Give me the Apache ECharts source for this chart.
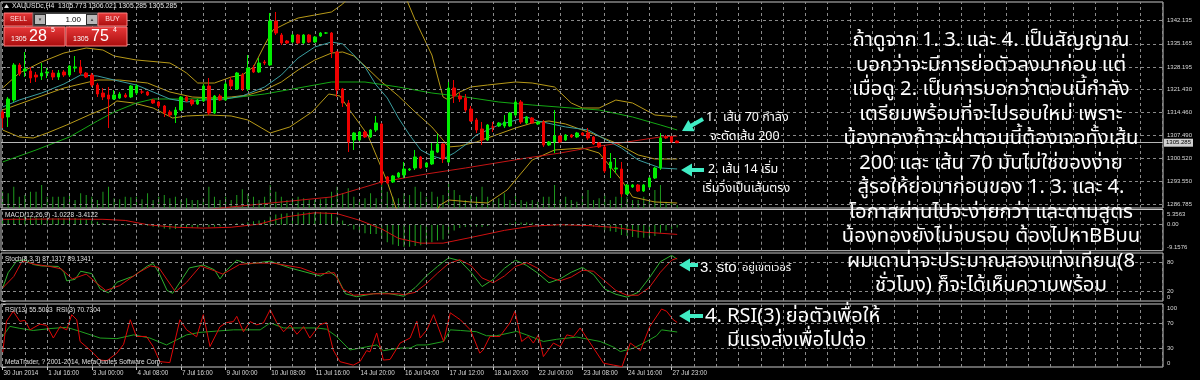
<!DOCTYPE html>
<html><head><meta charset="utf-8">
<script src="https://cdn.jsdelivr.net/npm/echarts@6/dist/echarts.min.js"></script>
<style>html,body{margin:0;padding:0;background:#000;overflow:hidden}#c{width:1200px;height:380px}</style>
</head><body><div id="c"></div>
<script>
// ---------------- DATA ----------------
const timeLabels = ['30 Jun 2014','1 Jul 16:00','3 Jul 00:00','4 Jul 08:00','7 Jul 16:00','9 Jul 00:00','10 Jul 08:00','11 Jul 16:00','14 Jul 20:00','16 Jul 04:00','17 Jul 12:00','18 Jul 20:00','22 Jul 00:00','23 Jul 08:00','24 Jul 16:00','27 Jul 23:00'];
const labelEvery = 8;
const priceTicks = [1342.135,1335.165,1328.195,1321.430,1314.460,1307.490,1300.520,1293.550,1286.785];
const bidPrice = 1305.285;
const macdTicks = [5.3563, 0, -9.1576];
const stochLevels = [0,20,80,100];
const rsiLevels = [0,30,70,100];

const openP = [1314.57,1313.06,1318.19,1328.76,1326.95,1326.95,1325.74,1325.44,1326.34,1326.34,
1325.14,1326.65,1325.74,1327.85,1328.16,1326.34,1325.74,1322.72,1320.30,1319.70,
1318.49,1318.79,1319.70,1319.10,1320.30,1320.61,1320.61,1318.19,1317.59,1316.38,
1314.57,1313.66,1315.17,1319.10,1318.19,1316.98,1317.89,1322.42,1314.26,1319.40,
1318.19,1324.23,1321.51,1325.74,1321.51,1327.85,1326.65,1329.67,1328.76,1342.05,
1337.82,1336.01,1335.71,1337.82,1335.40,1337.82,1335.71,1337.52,1338.42,1338.42,
1332.69,1321.51,1317.28,1306.11,1306.11,1308.53,1307.02,1309.13,1310.94,1294.94,
1293.43,1294.94,1295.54,1297.05,1297.65,1300.98,1297.96,1298.86,1302.49,1304.90,
1299.47,1321.81,1319.40,1318.79,1315.47,1312.15,1309.43,1306.11,1310.04,1310.34,
1310.34,1310.34,1313.66,1317.59,1311.24,1312.75,1310.94,1311.55,1304.60,1305.51,
1307.32,1306.11,1307.62,1307.02,1308.22,1308.22,1307.02,1305.20,1304.00,1297.65,
1297.35,1297.35,1289.80,1291.92,1292.52,1290.71,1291.92,1294.63,1297.65,1307.02,
1307.02,1305.77];
const closeP = [1312.75,1318.49,1328.76,1326.04,1327.55,1324.83,1325.14,1326.34,1326.65,1325.14,
1326.34,1325.74,1328.46,1328.16,1326.34,1325.14,1322.72,1320.00,1319.10,1318.49,
1319.70,1320.00,1319.10,1322.42,1322.42,1320.61,1319.70,1317.28,1316.38,1314.26,
1313.66,1315.17,1319.10,1317.89,1316.98,1318.19,1322.42,1314.26,1319.40,1318.19,
1323.02,1322.42,1326.34,1321.51,1327.85,1326.65,1329.36,1329.36,1342.05,1338.42,
1335.40,1335.40,1337.82,1335.40,1337.82,1335.71,1337.22,1338.42,1338.42,1332.69,
1321.21,1317.28,1305.51,1308.22,1308.53,1307.02,1309.13,1311.24,1293.12,1293.12,
1295.24,1296.14,1297.35,1297.35,1300.98,1297.65,1299.16,1302.79,1304.90,1300.37,
1321.81,1319.40,1318.49,1315.17,1311.85,1309.13,1306.11,1310.64,1310.04,1311.24,
1311.55,1314.26,1317.59,1311.55,1313.06,1311.24,1311.55,1304.60,1305.51,1307.32,
1305.51,1307.62,1307.02,1308.22,1307.62,1306.71,1304.90,1304.00,1296.75,1299.47,
1297.65,1289.80,1292.52,1292.52,1290.71,1292.52,1294.63,1297.65,1306.71,1306.71,
1305.51,1305.285];
const lowP = [1309.73,1310.04,1317.59,1325.44,1325.14,1323.32,1323.63,1324.23,1324.83,1324.23,
1324.23,1325.14,1325.14,1326.65,1325.74,1324.83,1322.12,1319.10,1318.19,1309.73,
1318.19,1318.49,1318.79,1318.79,1319.70,1320.00,1319.40,1316.98,1315.77,1313.06,
1313.06,1311.24,1314.87,1317.59,1316.38,1316.68,1317.59,1313.66,1313.96,1317.89,
1317.89,1321.21,1321.21,1320.91,1320.91,1326.34,1326.34,1328.76,1328.46,1337.82,
1334.80,1335.10,1335.40,1335.10,1335.10,1335.40,1335.40,1337.22,1338.12,1330.87,
1319.10,1316.08,1302.49,1303.09,1305.81,1306.71,1306.71,1308.53,1292.52,1292.82,
1293.12,1294.63,1294.63,1296.75,1297.05,1297.35,1297.65,1298.56,1302.18,1299.16,
1299.16,1317.28,1317.59,1314.57,1311.55,1308.22,1304.60,1305.81,1308.53,1310.04,
1309.73,1310.04,1313.36,1310.94,1310.94,1310.94,1310.64,1304.00,1304.30,1302.18,
1305.20,1305.81,1306.71,1306.71,1307.32,1306.11,1304.60,1303.69,1296.14,1294.63,
1296.14,1288.90,1289.50,1291.61,1290.41,1290.41,1291.61,1294.33,1297.05,1306.41,
1305.20,1305.285];
const highP = [1315.17,1319.10,1329.36,1329.36,1332.69,1328.16,1326.65,1329.36,1327.85,1327.25,
1327.25,1327.25,1328.76,1331.48,1330.27,1326.65,1326.34,1323.32,1321.81,1322.12,
1321.21,1320.61,1320.30,1322.72,1323.02,1321.21,1320.91,1318.49,1317.89,1316.68,
1315.17,1316.08,1319.40,1319.40,1318.49,1318.49,1323.02,1324.83,1319.70,1320.00,
1323.63,1325.14,1326.65,1326.34,1331.78,1328.76,1330.87,1330.27,1344.46,1344.77,
1338.42,1336.31,1338.12,1338.12,1338.12,1338.12,1337.52,1338.73,1338.73,1338.73,
1332.99,1321.81,1318.19,1308.53,1308.83,1308.83,1309.43,1313.36,1311.24,1295.24,
1295.54,1296.45,1299.47,1297.65,1303.09,1301.28,1299.47,1305.20,1307.92,1305.20,
1323.63,1324.23,1320.30,1320.00,1316.38,1312.75,1311.55,1310.94,1311.55,1311.55,
1313.66,1314.57,1318.19,1318.19,1313.36,1313.06,1311.85,1312.15,1305.81,1315.17,
1307.62,1307.92,1307.92,1308.53,1308.53,1309.73,1307.32,1305.51,1304.30,1302.18,
1300.67,1299.47,1292.82,1292.82,1292.82,1292.82,1294.94,1297.96,1308.22,1307.62,
1307.32,1306.021];
const volume = [1630,1470,2130,1130,1300,1630,1630,2300,1130,1130,1130,1130,1470,800,1470,1300,1130,800,1630,2130,
970,870,1130,1070,1130,870,1470,800,1130,1300,970,1130,800,970,800,800,970,2130,1130,800,1130,800,
1300,1870,1400,1130,800,1130,2300,1630,1130,800,970,1130,970,800,800,870,970,1630,2130,1470,
1970,1130,800,970,1470,970,2630,1630,1130,970,1470,1300,2130,1630,1130,1630,1130,1300,2630,1800,1300,
800,1300,1130,2130,1130,800,970,1470,800,1300,800,630,800,630,1130,1130,2300,800,1130,800,
630,1470,1800,800,970,1300,800,1130,1970,1130,800,800,1130,800,1800,2300,630,630,300];

const bbUpper = [[0,1321.81],[3,1326.34],[7,1329.67],[11,1332.38],[15,1333.89],[18,1333.29],[20,1331.48],[24,1330.27],[28,1329.67],[30,1329.36],[31,1328.46],[33,1326.34],[35,1323.32],[38,1323.32],[41,1325.14],[43,1325.74],[45,1328.16],[47,1334.80],[48.5,1339.33],[51,1341.44],[53,1342.95],[56,1343.86],[59,1344.77],[61,1347.18],[62,1348.99],[64,1352.92],[67,1355.94],[70,1352.92],[72.5,1348.39],[74,1342.35],[77,1331.78],[79,1319.10],[80,1318.19],[82,1320.61],[84,1322.12],[87,1322.72],[92,1323.63],[95,1323.32],[99,1322.12],[102,1317.28],[104,1315.77],[107,1315.77],[110,1318.19],[113,1317.28],[117,1313.66],[121,1313.06]];
const bbMid = [[0,1315.17],[5,1318.19],[11,1321.81],[17,1324.23],[21,1324.23],[26,1323.32],[30,1320.61],[34,1319.10],[38,1318.79],[41,1319.10],[44,1319.70],[47,1321.21],[50,1323.63],[53,1327.25],[56,1330.27],[59,1332.38],[61,1332.69],[63,1331.48],[65,1328.46],[68,1323.63],[71,1319.40],[74,1314.57],[77,1310.04],[79,1306.11],[80,1304.00],[82,1304.30],[85,1305.51],[89,1307.92],[92,1309.73],[95,1311.24],[98,1311.85],[101,1310.94],[103,1309.73],[106,1307.92],[110,1305.20],[114,1301.58],[117,1300.37],[121,1300.37]];
const bbLower = [[0,1309.13],[3,1307.02],[5.5,1306.71],[8,1308.22],[11.5,1310.64],[15.5,1313.66],[19,1316.08],[20.5,1317.89],[23.5,1317.28],[27,1315.77],[30.5,1312.75],[33,1313.36],[37,1313.66],[41,1313.36],[44,1312.15],[48,1308.22],[51.5,1310.04],[55.5,1314.57],[58.5,1320.00],[60.5,1319.40],[62.5,1314.57],[65.5,1307.62],[69,1293.43],[70.5,1285.88],[72,1281.35],[74,1278.93],[76,1280.44],[78.5,1286.48],[80,1287.99],[84,1287.39],[87,1287.08],[90.5,1291.01],[95,1300.07],[99,1303.09],[104,1303.69],[107,1302.18],[111,1294.03],[113,1288.90],[117,1287.39],[121,1287.08]];
const ma14 = [[0,1316.08],[3,1318.19],[7,1320.30],[11,1323.02],[14,1325.74],[17,1325.44],[20,1324.23],[24,1322.72],[27,1320.61],[30,1318.49],[33,1317.59],[36,1318.19],[40,1318.49],[43,1319.40],[47,1322.12],[50,1325.74],[53,1330.87],[56,1334.20],[59,1335.71],[61,1335.10],[63,1331.78],[65,1328.16],[67,1322.72],[69,1318.79],[71,1312.75],[73,1307.62],[75,1303.09],[77,1301.28],[79,1300.37],[81,1302.18],[83,1304.60],[85,1307.62],[89,1310.64],[94,1313.06],[96,1311.85],[101,1310.04],[105,1309.13],[107,1307.32],[111,1303.69],[114,1300.07],[118,1297.65],[121,1297.35]];
const ma70 = [[0,1299.47],[6,1303.09],[12,1307.02],[17,1311.85],[20,1314.57],[24,1317.28],[27,1318.49],[33,1318.49],[41,1318.79],[47,1320.00],[53,1321.81],[59,1323.63],[65,1323.63],[71,1322.12],[77,1320.30],[83,1319.10],[89,1317.59],[95,1316.68],[102,1315.77],[107,1315.17],[113,1313.06],[118,1310.64],[121,1309.13]];
const ma200 = [[0,1278.33],[20,1281.95],[41,1285.88],[59,1288.90],[68,1293.43],[76,1295.84],[83,1297.65],[94,1300.67],[100,1302.18],[106,1304.00],[112,1305.51],[118,1307.02],[121,1307.32]];

const macdHist = [1.9,2.0,2.3,2.6,2.7,2.6,2.5,2.4,2.4,2.3,
2.3,2.2,2.3,2.4,2.2,1.9,1.5,1.0,0.6,0.2,
-0.1,-0.2,-0.3,-0.2,-0.1,-0.2,-0.4,-0.7,-1.0,-1.3,
-1.6,-1.5,-1.2,-1.1,-1.1,-1.0,-0.6,-0.9,-0.7,-0.6,
-0.2,0.1,0.5,0.4,0.9,1.2,1.5,1.6,2.9,3.6,
3.9,4.0,4.2,4.3,4.4,4.4,4.4,4.5,4.5,4.0,
2.8,1.5,-0.5,-1.7,-2.5,-3.0,-3.3,-3.3,-5.0,-6.2,
-7.0,-7.5,-7.8,-7.8,-7.5,-7.2,-6.8,-6.2,-5.6,-5.2,
-3.2,-2.0,-1.2,-0.8,-0.6,-0.6,-0.8,-0.5,-0.3,0.0,
0.2,0.5,1.0,0.8,0.8,0.7,0.2,-0.3,-0.5,-0.5,
-0.6,-0.5,-0.4,-0.3,-0.3,-0.4,-0.6,-0.9,-1.8,-2.3,
-2.6,-3.6,-4.0,-4.3,-4.6,-4.6,-4.4,-4.0,-2.8,-2.0,-1.5,-1.0228];
const macdSignal = [[0,1.9],[10,2.0],[18,1.9],[22,1.5],[26,0.0],[31,-0.9],[36,-1.2],[41,-0.9],[46,0.2],[51,2.8],[56,4.2],[60,3.9],[64,1.6],[68,-1.5],[71,-4.8],[75,-6.5],[79,-6.5],[84,-4.5],[90,-2.0],[95,-0.5],[100,0.0],[105,-0.3],[110,-1.0],[115,-2.6],[121,-3.4122]];

const stochMain = [[0,27],[1,59],[2.5,83],[4,86],[5.5,76],[7,73],[10,72],[11,60],[11.5,42],[13,45],[14,62],[16,57],[17.5,25],[19,17],[20.5,39],[23.5,52],[26,73],[27,78],[28,60],[29.5,22],[30.5,16],[33.5,69],[36,75],[38,65],[39,46],[40,62],[42,85],[44,77],[46,80],[48,83],[51.5,69],[57,52],[58.5,62],[60,50],[61.5,15],[63.5,9],[66.5,15],[68.5,17],[71,12],[72,10],[74,28],[76,52],[78,72],[80,90],[82,84],[84,60],[86,30],[88,45],[90,68],[92,85],[94,74],[96,58],[98,38],[100,46],[102,60],[104,70],[106,55],[108,25],[110,14],[112,8],[114,18],[116,48],[118,82],[120,95],[121,87.1317]];
const stochSignal = [[0,27],[2,51],[3.5,83],[6,76],[8.5,72],[10.5,67],[12.5,46],[15,56],[17,36],[18.5,22],[21,32],[24.5,60],[26.5,73],[28,70],[31,19],[33,39],[35.5,73],[38,63],[39.5,56],[42.5,76],[45,79],[48.5,79],[53.5,69],[56.5,56],[59.5,59],[61,25],[63,12],[66.5,15],[71,15],[72,13],[74,18],[76,36],[78,58],[80,78],[82,86],[84,74],[86,48],[88,38],[90,52],[92,72],[94,80],[96,68],[98,50],[100,42],[102,50],[104,64],[106,62],[108,42],[110,22],[112,12],[114,12],[116,28],[118,60],[120,85],[121,89.1341]];

const rsi13 = [[0,48.5],[1.3,64.5],[3.1,61.3],[5.5,58],[8.5,61],[11.5,63],[13.9,56.5],[17.5,46],[20.5,45],[23.5,51],[26.4,46],[29.4,35],[31.2,43],[33,51],[35.4,55],[38.4,57],[41.4,59],[46.2,59],[48,70],[50.4,62],[53.4,62],[56.3,62],[58.1,60],[59.9,48.5],[62.3,27],[65.3,32],[67.1,35],[68.3,26],[71.3,30],[73.1,30],[74.3,35],[76.1,35],[79.1,40.5],[80.3,59],[82.1,58],[85,56],[86.8,49.6],[88.6,49.6],[92.2,56.5],[94,51],[97,40.5],[99.4,44],[103,47.5],[107.2,40.5],[109.6,31.5],[110.8,24.5],[113.2,30],[115.5,40.5],[117.3,49.6],[118.2,59],[121,55.5083]];
const rsi3 = [[0,22],[0.7,72.5],[1.9,88.5],[3.1,72.5],[4,74],[4.9,59],[6.7,68],[7.9,66],[9.1,46],[10.3,64],[11.5,59],[12.4,83],[13.3,75],[13.9,40.5],[15.7,27],[17.5,11],[18.7,10],[20.5,22],[21.7,36],[22.9,75],[24,48.5],[25.8,48.5],[27,32.5],[28.2,8.5],[30,7],[31.8,75],[33,59],[34.8,48],[36,83],[37.2,32.5],[39,64],[40.2,70.5],[41.4,72],[42,80.5],[43.2,56],[44.4,72],[45.6,67],[46.8,70],[48,91],[49.2,70],[50.4,56],[51.6,67],[52.8,52],[54,64],[55.1,46],[56.9,67],[58.1,70.5],[59.3,27],[60.5,8.5],[62.9,3],[64.1,8.5],[65.3,26],[65.9,24],[67.1,54],[68.3,11],[69.5,12],[71.3,38],[73.1,46],[74.3,72.5],[74.9,46],[76.1,59],[77.3,83],[79.1,40.5],[80.3,86],[82.1,75],[83.9,59],[85.6,22],[86.2,27],[87.4,48.5],[89.2,48.5],[91,70],[91.9,88.5],[93.1,40.5],[94.3,48.5],[95.2,38],[96.1,51],[97,16.5],[98.8,38],[100,32.5],[101.2,51],[102.4,48.5],[103.6,62],[105.4,38],[107.8,6],[109.6,3],[111.1,0.5],[112.6,38],[114.4,26],[116.1,64.5],[118.2,92],[119.1,88.5],[120.3,75],[121,70.7304]];

const thaiLines = ['ถ้าดูจาก 1. 3. และ 4. เป็นสัญญาณ','บอกว่าจะมีการย่อตัวลงมาก่อน แต่','เมื่อดู 2. เป็นการบอกว่าตอนนี้กำลัง','เตรียมพร้อมที่จะไปรอบใหม่ เพราะ','น้องทองถ้าจะฝ่าตอนนี้ต้องเจอทั้งเส้น','200 และ เส้น 70 มันไม่ใช่ของง่าย','สู้รอให้ย่อมาก่อนของ 1. 3. และ 4.','โอกาสผ่านไปจะง่ายกว่า และตามสูตร','น้องทองยังไม่จบรอบ ต้องไปหาBBบน','ผมเดาน่าจะประมาณสองแท่งเทียน(8','ชั่วโมง) ก็จะได้เห็นความพร้อม'];

// ---------------- CHART ----------------
const X_MIN = -0.287, X_MAX = 208.14;
const GRID_C = '#8a8a8a', TXT = '#d8d8d8';
const SMALL = '"Liberation Sans", Arial, sans-serif';
const THAI = 'Tahoma, "Noto Sans Thai", Loma, Garuda, Norasi, "DejaVu Sans", sans-serif';
const gridBars = []; for (let b = 0; b <= 208; b += 4) gridBars.push(b);
const labelBars = timeLabels.map((_, j) => j * labelEvery);

const grids = [
  {left:1, top:2, width:1162, height:206},
  {left:1, top:209.5, width:1162, height:41.2},
  {left:1, top:253, width:1162, height:48},
  {left:1, top:304, width:1162, height:63}
].map(g => Object.assign(g, {show:true, borderColor:'#c8c8c8', borderWidth:1, backgroundColor:'transparent'}));

const xAxes = [0,1,2,3].map(k => ({
  type:'value', gridIndex:k, min:X_MIN, max:X_MAX,
  axisLine:{show:false}, splitLine:{show:false},
  axisTick: k === 3 ? {show:true, customValues:labelBars, length:3, lineStyle:{color:'#c8c8c8'}} : {show:false},
  axisLabel: k === 3 ? {show:true, customValues:labelBars, formatter:v => timeLabels[Math.round(v / labelEvery)], color:TXT, fontSize:6.3, fontFamily:SMALL, align:'left', margin:3, padding:[0,0,0,1]} : {show:false}
}));

function rightAxis(grid, min, max, ticks, fmt) {
  const st = {fontSize:6, fontFamily:SMALL, color:TXT};
  return {type:'value', gridIndex:grid, position:'right', min, max,
    axisLine:{show:false}, splitLine:{show:false},
    axisTick:{show:true, customValues:ticks, length:3, lineStyle:{color:'#c8c8c8'}},
    axisLabel:{show:true, customValues:ticks, color:TXT, fontSize:6, fontFamily:SMALL, margin:4,
      formatter: v => v === max ? '{t|' + fmt(v) + '}' : (v === min ? '{b|' + fmt(v) + '}' : fmt(v)),
      rich:{t:Object.assign({padding:[9,0,0,0]}, st), b:Object.assign({padding:[0,0,7,0]}, st)}}};
}
const yAxes = [
  rightAxis(0, 1285.57, 1347.79, priceTicks, v => v.toFixed(3)),
  {type:'value', gridIndex:0, min:0, max:20600, show:false},
  rightAxis(1, -9.1576, 5.3563, macdTicks, v => v === 0 ? '0.00' : v.toFixed(4)),
  rightAxis(2, 0, 100, stochLevels, v => String(v)),
  rightAxis(3, 0, 100, rsiLevels, v => String(v))
];

const hLevels = [priceTicks, [0], [20, 80], [30, 70]];
const yIdx = [0, 2, 3, 4];
const series = [];
[0,1,2,3].forEach(k => {
  series.push({type:'line', xAxisIndex:k, yAxisIndex:yIdx[k], data:[], silent:true, z:1,
    markLine:{silent:true, symbol:'none', animation:false, label:{show:false},
      lineStyle:{color:GRID_C, type:[3,3], width:1},
      data: gridBars.map(b => ({xAxis:b})).concat(hLevels[k].map(v => ({yAxis:v})))}});
});
const idx = a => a.map((v, i) => [i, v]);
const line = (data, color, xi, yi, z) => ({type:'line', xAxisIndex:xi, yAxisIndex:yi, data, showSymbol:false, symbol:'none',
  lineStyle:{color, width:1}, itemStyle:{color}, z:z || 3, clip:true, silent:true});

series.push({type:'bar', xAxisIndex:0, yAxisIndex:1, data:idx(volume), barWidth:1, itemStyle:{color:'#1e9a1e'}, z:2, silent:true});
series.push(line(bbUpper, '#b89a18', 0, 0));
series.push(line(bbMid, '#b89a18', 0, 0));
series.push(line(bbLower, '#b89a18', 0, 0));
series.push(line(ma70, '#14a814', 0, 0));
series.push(line(ma200, '#c41414', 0, 0));
series.push(line(ma14, '#3a9ea0', 0, 0));
series.push({type:'candlestick', xAxisIndex:0, yAxisIndex:0, barWidth:3, z:5, silent:true,
  encode:{x:0, y:[1,2,3,4]},
  data: openP.map((o, i) => [i, o, closeP[i], lowP[i], highP[i]]),
  itemStyle:{color:'#00ee00', color0:'#ee0000', borderColor:'#00ee00', borderColor0:'#ee0000', borderWidth:1},
  markLine:{silent:true, symbol:'none', animation:false,
    lineStyle:{color:'#b8b8b8', type:'solid', width:1},
    label:{show:true, position:'end', formatter:() => bidPrice.toFixed(3), color:'#000', backgroundColor:'#d0d0d0', fontSize:6, fontFamily:SMALL, padding:[1,2], distance:1},
    data:[{yAxis:bidPrice}]}});
series.push({type:'bar', xAxisIndex:1, yAxisIndex:2, data:idx(macdHist), barWidth:1, itemStyle:{color:'#22a822'}, z:2, silent:true});
series.push(line(macdSignal, '#d01010', 1, 2));
series.push(line(stochMain, '#2fb02f', 2, 3));
series.push(line(stochSignal, '#d41010', 2, 3));
series.push(line(rsi13, '#20a020', 3, 4));
series.push(line(rsi3, '#e00808', 3, 4));

// ---------- graphics (annotations, header, trade panel) ----------
function arrow(tx, ty, sx, sy, color) {
  const dx = sx - tx, dy = sy - ty, L = Math.hypot(dx, dy), ux = dx / L, uy = dy / L, nx = -uy, ny = ux;
  const hl = 11, hw = 6.5, sw = 2;
  const bx = tx + ux * hl, by = ty + uy * hl;
  return {type:'polygon', silent:true, z:50, shape:{points:[[tx,ty],[bx+nx*hw,by+ny*hw],[bx+nx*sw,by+ny*sw],[sx+nx*sw,sy+ny*sw],[sx-nx*sw,sy-ny*sw],[bx-nx*sw,by-ny*sw],[bx-nx*hw,by-ny*hw]]}, style:{fill:color}};
}
const txt = (x, y, text, size, opt) => Object.assign({type:'text', x, y, silent:true, z:60,
  style:Object.assign({text, fill:'#fff', fontSize:size, fontFamily:THAI, textVerticalAlign:'middle', verticalAlign:'middle'}, opt || {})});
const AQ = '#40ecc4';
const graphics = [];
thaiLines.forEach((t, j) => graphics.push(txt(991, 42 + j * 24.5, t, 20.3, {align:'center', textAlign:'center'})));
graphics.push(txt(706, 118, '1.  เส้น 70 กำลัง', 12.5));
graphics.push(txt(710, 137, 'จะตัดเส้น 200', 12.5));
graphics.push(txt(708, 170, '2. เส้น 14 เริ่ม', 12.5));
graphics.push(txt(702, 189, 'เริ่มวิ่งเป็นเส้นตรง', 12.5));
graphics.push(txt(700, 268, '3. sto', 15, {fontFamily:SMALL}));
graphics.push(txt(742, 269, 'อยู่เขตเวอร์', 11));
graphics.push(txt(705, 318, '4. RSI(3) ย่อตัวเพื่อให้', 20));
graphics.push(txt(727, 342, 'มีแรงส่งเพื่อไปต่อ', 20));
graphics.push(arrow(682, 131, 703, 119, AQ));
graphics.push(arrow(681, 170, 704, 170, AQ));
graphics.push(arrow(679, 265, 698, 265, AQ));
graphics.push(arrow(679, 316, 703, 316, AQ));
// header
graphics.push({type:'polygon', silent:true, z:60, shape:{points:[[4,8],[6.5,4],[9,8]]}, style:{fill:'#e0e0e0'}});
graphics.push(txt(12, 6.5, 'XAUUSDc,H4  1305.773 1306.021 1305.285 1305.285', 6.8, {fontFamily:SMALL, fill:'#e8e8e8'}));
// trade panel
const redGrad = {type:'linear', x:0, y:0, x2:0, y2:1, colorStops:[{offset:0, color:'#e8393a'}, {offset:1, color:'#a80c0c'}]};
const rect = (x, y, w, h, fill, stroke) => ({type:'rect', silent:true, z:55, shape:{x, y, width:w, height:h}, style:{fill, stroke:stroke || null, lineWidth:stroke ? 1 : 0}});
graphics.push(rect(4, 13, 29, 13, redGrad, '#ff8080'));
graphics.push(rect(33, 13, 65, 13, '#2a2a2a', '#606060'));
graphics.push(rect(35, 15, 10, 9, '#b8b8b8'));
graphics.push(rect(46, 14, 40, 11, '#ffffff'));
graphics.push(rect(87, 15, 10, 9, '#b8b8b8'));
graphics.push(rect(98, 13, 29, 13, redGrad, '#ff8080'));
graphics.push(rect(4, 27, 61, 19, redGrad, '#ff8080'));
graphics.push(rect(66, 27, 61, 19, redGrad, '#ff8080'));
graphics.push(txt(18.5, 19.5, 'SELL', 7, {fontFamily:SMALL, fill:'#ffe0e0', align:'center', textAlign:'center'}));
graphics.push(txt(112.5, 19.5, 'BUY', 7, {fontFamily:SMALL, fill:'#ffe0e0', align:'center', textAlign:'center'}));
graphics.push(txt(40, 19.5, '▼', 4.5, {fontFamily:SMALL, fill:'#404040', align:'center', textAlign:'center'}));
graphics.push(txt(92, 19.5, '▲', 4.5, {fontFamily:SMALL, fill:'#404040', align:'center', textAlign:'center'}));
graphics.push(txt(81, 19.5, '1.00', 8, {fontFamily:SMALL, fill:'#000', align:'right', textAlign:'right'}));
graphics.push(txt(11, 39.5, '1305', 7, {fontFamily:SMALL}));
graphics.push(txt(29, 37, '28', 16, {fontFamily:SMALL}));
graphics.push(txt(51, 30.5, '5', 7, {fontFamily:SMALL}));
graphics.push(txt(73, 39.5, '1305', 7, {fontFamily:SMALL}));
graphics.push(txt(91, 37, '75', 16, {fontFamily:SMALL}));
graphics.push(txt(113, 30.5, '4', 7, {fontFamily:SMALL}));
// panel captions
graphics.push(txt(5, 215, 'MACD(12,26,9) -1.0228 -3.4122', 6.5, {fontFamily:SMALL, fill:'#e0e0e0'}));
graphics.push(txt(5, 259.5, 'Stoch(8,3,3) 87.1317 89.1341', 6.5, {fontFamily:SMALL, fill:'#e0e0e0'}));
graphics.push(txt(5, 310.5, 'RSI(13) 55.5083  RSI(3) 70.7304', 6.5, {fontFamily:SMALL, fill:'#e0e0e0'}));
graphics.push(txt(5, 362, 'MetaTrader, ? 2001-2014, MetaQuotes Software Corp.', 6.5, {fontFamily:SMALL, fill:'#e0e0e0'}));

const chart = echarts.init(document.getElementById('c'), null, {renderer:'canvas'});
chart.setOption({
  backgroundColor:'#000', animation:false,
  grid:grids, xAxis:xAxes, yAxis:yAxes, series, graphic:graphics
});
</script></body></html>
